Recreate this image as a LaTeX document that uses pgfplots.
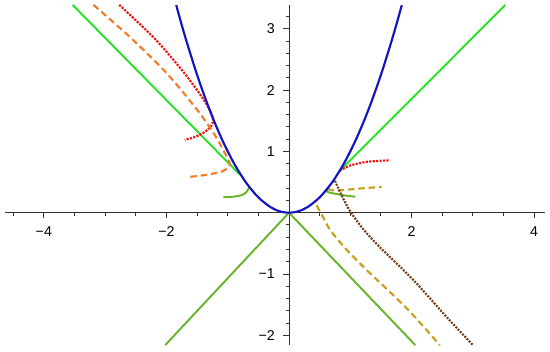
\documentclass[border=0pt]{standalone}
\usepackage{fontspec}
\setmainfont{Liberation Sans}
\usepackage{pgfplots}
\pgfplotsset{compat=1.18}
\definecolor{curveblue}{RGB}{20,20,195}
\definecolor{brightgreen}{RGB}{40,225,40}
\definecolor{dullgreen}{RGB}{105,180,40}
\definecolor{dotred}{RGB}{235,20,20}
\definecolor{dashorange}{RGB}{240,125,40}
\definecolor{dasholive}{RGB}{200,160,30}
\definecolor{dotbrown}{RGB}{115,60,25}
\begin{document}
\begin{tikzpicture}
\begin{axis}[
    x=1cm, y=1cm,
    axis lines=middle,
    axis line style={-, black!80, line width=0.45pt},
    xmin=-4.63, xmax=4.18,
    ymin=-2.16, ymax=3.39,
    xtick={-4,-2,2,4},
    xticklabels={−4,−2,2,4},
    ytick={-2,-1,1,2,3},
    yticklabels={−2,−1,1,2,3},
    minor xtick={-4.5,-3.5,-3,-2.5,-1.5,-1,-0.5,0.5,1,1.5,2.5,3,3.5},
    minor ytick={-2.2,-1.8,-1.6,-1.4,-1.2,-0.8,-0.6,-0.4,-0.2,0.2,0.4,0.6,0.8,1.2,1.4,1.6,1.8,2.2,2.4,2.6,2.8,3.2},
    tick align=outside,
    major tick length=2.6pt,
    minor tick length=1.6pt,
    tick style={black!80, line width=0.45pt},
    tick label style={font=\fontsize{6.6}{7}\selectfont},
    xticklabel style={yshift=-0.5pt},
    yticklabel style={xshift=-0.5pt},
    clip=true,
]
\coordinate (bl) at (axis cs:-4.715,-2.272);
\coordinate (tr) at (axis cs:4.258,3.47);
% upper straight lines
\addplot[brightgreen, line width=0.9pt] coordinates {(-3.53,3.39)(-0.80,0.62)};
\addplot[brightgreen, line width=0.9pt] coordinates {(0.83,0.685)(3.53,3.39)};
% lower V
\addplot[dullgreen, line width=0.9pt] coordinates {(-2.02,-2.16)(0,0)(2.06,-2.16)};
% left red dotted
\addplot[dotred, line width=1pt, dash pattern=on 1pt off 0.6pt, smooth] coordinates {
    (-2.77,3.39)(-2.2,2.85)(-1.75,2.33)(-1.45,1.93)(-1.29,1.67)
    (-1.24,1.52)(-1.27,1.41)(-1.40,1.30)(-1.55,1.23)(-1.70,1.19)};
% left orange dashed
\addplot[dashorange, line width=1pt, dash pattern=on 3pt off 1.8pt, smooth] coordinates {
    (-3.19,3.39)(-2.6,2.87)(-2.0,2.28)(-1.5,1.68)(-1.2,1.25)(-1.0,0.88)
    (-0.97,0.77)(-1.10,0.67)(-1.40,0.61)(-1.62,0.585)};
% left green hook
\addplot[dullgreen, line width=0.9pt, smooth] coordinates {
    (-0.65,0.41)(-0.70,0.33)(-0.78,0.285)(-0.92,0.26)(-1.07,0.255)};
% right red dotted
\addplot[dotred, line width=1pt, dash pattern=on 1pt off 0.6pt, smooth] coordinates {
    (0.83,0.685)(1.00,0.77)(1.27,0.83)(1.65,0.855)};
% right olive dashed (upper)
\addplot[dasholive, line width=1pt, dash pattern=on 3pt off 1.8pt, smooth] coordinates {
    (0.63,0.39)(0.74,0.36)(0.95,0.375)(1.22,0.40)(1.51,0.42)};
% right green hook
\addplot[dullgreen, line width=0.9pt, smooth] coordinates {
    (0.64,0.40)(0.62,0.345)(0.75,0.31)(0.92,0.28)(1.08,0.26)};
% brown dotted descending
\addplot[dotbrown, line width=1pt, dash pattern=on 0.9pt off 0.6pt, smooth] coordinates {
    (0.75,0.52)(0.87,0.26)(1.00,0.02)(1.22,-0.28)(1.48,-0.56)(2.03,-1.10)(2.57,-1.70)(3.00,-2.16)};
% olive dashed descending
\addplot[dasholive, line width=1pt, dash pattern=on 3pt off 1.8pt, smooth] coordinates {
    (0.45,0.12)(0.56,-0.08)(0.67,-0.28)(0.90,-0.56)(1.21,-0.88)(1.92,-1.56)(2.46,-2.16)};
% parabola
\addplot[curveblue, line width=1pt, smooth] coordinates {
    (-1.84,3.386)(-1.7,2.89)(-1.5,2.25)(-1.3,1.69)(-1.1,1.21)(-0.9,0.81)
    (-0.7,0.49)(-0.5,0.25)(-0.3,0.09)(-0.15,0.0225)(0,0)(0.15,0.0225)(0.3,0.09)
    (0.5,0.25)(0.7,0.49)(0.9,0.81)(1.1,1.21)(1.3,1.69)(1.5,2.25)(1.7,2.89)(1.84,3.386)};
\end{axis}
\pgfresetboundingbox
\path (bl) rectangle (tr);
\end{tikzpicture}
\end{document}
